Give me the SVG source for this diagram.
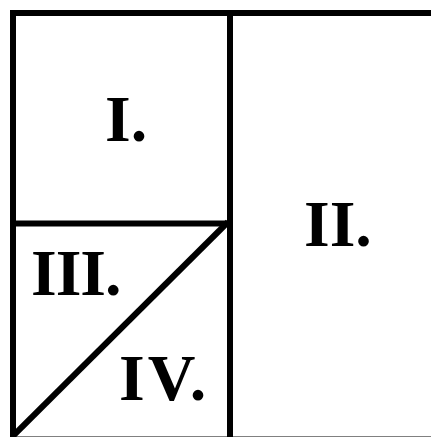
<svg xmlns="http://www.w3.org/2000/svg" width="431" height="437" viewBox="0 0 431 437">
<style>
.ln{stroke:#000;stroke-width:6;fill:none}
.lb{font-family:"Liberation Serif","Times New Roman",serif;font-weight:bold;font-size:66px;fill:#000}
</style>
<rect x="0" y="0" width="431" height="437" fill="#fff"/>
<g id="frame">
<rect class="ln" x="13" y="13" width="430" height="426.5"/>
<line class="ln" x1="230" y1="13" x2="230" y2="440"/>
<line class="ln" x1="13" y1="223.5" x2="230" y2="223.5"/>
<line class="ln" x1="13" y1="436" x2="228" y2="222"/>
</g>
<g id="I"><text class="lb" x="105" y="141">I.</text></g>
<g id="II"><text class="lb" x="304" y="246">II.</text></g>
<g id="III"><text class="lb" x="31" y="295" letter-spacing="-1">III.</text></g>
<g id="IV"><text class="lb" x="119" y="400" letter-spacing="3">IV.</text></g>
</svg>
